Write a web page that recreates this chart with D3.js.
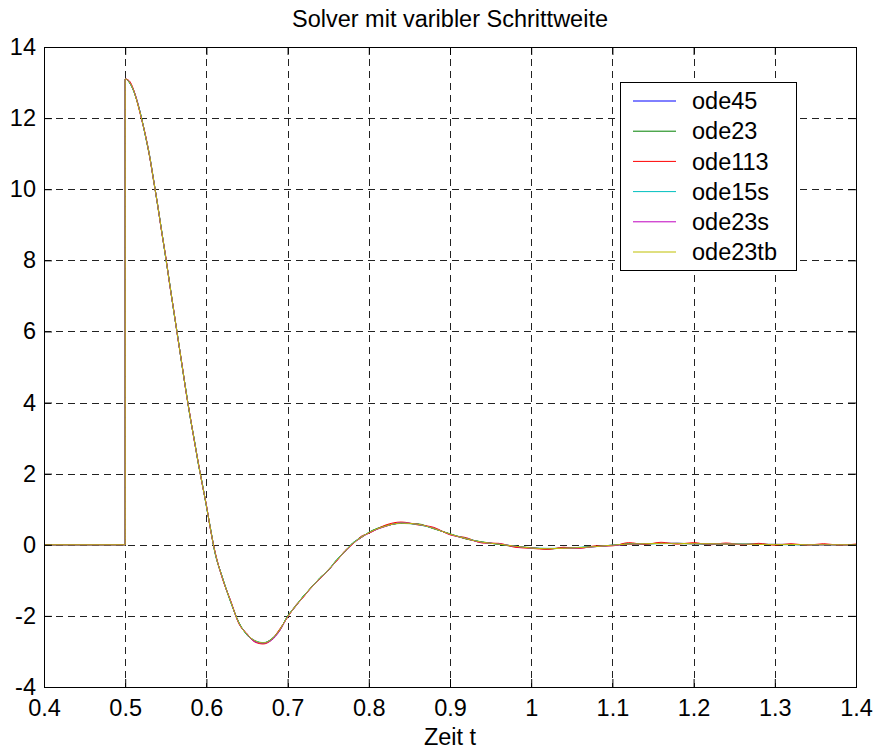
<!DOCTYPE html>
<html>
<head>
<meta charset="utf-8">
<script src="https://cdn.jsdelivr.net/npm/d3@7/dist/d3.min.js"></script>
<style>
  body { margin: 0; background: #fff; }
  svg { display: block; font-family: "Liberation Sans", Arial, sans-serif; }
  .axis text { font-size: 23.5px; fill: #000; }
  .axis line, .axis path { stroke: #000; }
  .grid line { stroke: #222; stroke-dasharray: 7,5; shape-rendering: crispEdges; }
</style>
</head>
<body>
<div id="chart"></div>
<script>
// time grid shared by all solver outputs
var time = [0.4, 0.5, 0.5,
  0.505, 0.51, 0.515, 0.52, 0.525, 0.53, 0.535, 0.54, 0.545, 0.55, 0.555, 0.56, 0.565, 0.57, 0.575, 0.58, 0.585, 0.59, 0.595, 0.6, 0.605, 0.61,
  0.62, 0.63, 0.64, 0.65, 0.66, 0.67, 0.68, 0.69, 0.7, 0.71, 0.72, 0.73, 0.74, 0.75, 0.76, 0.77, 0.78, 0.79, 0.8,
  0.82, 0.84, 0.86, 0.88, 0.9, 0.92, 0.94, 0.96, 0.98, 1.0, 1.02, 1.04, 1.06, 1.08, 1.1, 1.12, 1.14, 1.16, 1.18, 1.2,
  1.22, 1.24, 1.26, 1.28, 1.3, 1.32, 1.34, 1.36, 1.38, 1.4];

var ode45 = [0, 0, 13.1,
  13.02, 12.8, 12.45, 12.0, 11.5, 10.95, 10.25, 9.55, 8.8, 8.07, 7.3, 6.55, 5.8, 5.05, 4.3, 3.6, 2.95, 2.3, 1.7, 1.1, 0.45, -0.15,
  -0.95, -1.6, -2.2, -2.52, -2.7, -2.76, -2.66, -2.4, -2.02, -1.72, -1.44, -1.18, -0.94, -0.72, -0.45, -0.2, 0.03, 0.2, 0.34,
  0.52, 0.61, 0.58, 0.46, 0.3, 0.17, 0.07, 0.02, -0.04, -0.09, -0.11, -0.1, -0.08, -0.05, -0.01, 0.02, 0.03, 0.04, 0.04, 0.03,
  0.03, 0.02, 0.02, 0.01, 0.01, 0.01, 0.0, 0.0, 0.0, 0.0];
var ode23 = [0, 0, 13.1,
  13.0, 12.78, 12.44, 12.02, 11.48, 10.92, 10.27, 9.53, 8.82, 8.05, 7.32, 6.53, 5.82, 5.03, 4.32, 3.58, 2.97, 2.28, 1.72, 1.08, 0.47, -0.17,
  -0.93, -1.62, -2.18, -2.54, -2.71, -2.77, -2.65, -2.42, -2.0, -1.73, -1.42, -1.19, -0.92, -0.73, -0.43, -0.21, 0.05, 0.19, 0.35,
  0.53, 0.6, 0.59, 0.45, 0.31, 0.16, 0.08, 0.01, -0.05, -0.08, -0.12, -0.09, -0.08, -0.04, -0.02, 0.03, 0.02, 0.04, 0.03, 0.03,
  0.02, 0.02, 0.01, 0.02, 0.0, 0.01, 0.0, 0.01, 0.0, 0.0];
var ode113 = [0, 0, 13.1,
  13.05, 12.82, 12.43, 11.98, 11.52, 10.93, 10.22, 9.57, 8.78, 8.1, 7.28, 6.57, 5.78, 5.07, 4.28, 3.62, 2.93, 2.32, 1.68, 1.12, 0.43, -0.13,
  -0.97, -1.58, -2.22, -2.5, -2.74, -2.79, -2.68, -2.38, -2.04, -1.7, -1.46, -1.16, -0.96, -0.7, -0.47, -0.18, 0.01, 0.23, 0.32,
  0.55, 0.64, 0.56, 0.49, 0.28, 0.2, 0.05, 0.04, -0.07, -0.1, -0.13, -0.07, -0.1, -0.03, -0.03, 0.06, 0.01, 0.07, 0.02, 0.06,
  0.0, 0.05, 0.0, 0.04, -0.01, 0.03, -0.01, 0.03, -0.01, 0.02];
var ode15s = [0, 0, 13.1,
  13.01, 12.79, 12.46, 12.01, 11.49, 10.96, 10.24, 9.56, 8.81, 8.06, 7.31, 6.54, 5.81, 5.04, 4.31, 3.59, 2.96, 2.29, 1.71, 1.09, 0.46, -0.16,
  -0.94, -1.61, -2.19, -2.53, -2.7, -2.75, -2.67, -2.41, -2.01, -1.71, -1.43, -1.17, -0.93, -0.71, -0.44, -0.19, 0.04, 0.21, 0.34,
  0.52, 0.61, 0.57, 0.46, 0.3, 0.18, 0.07, 0.02, -0.04, -0.09, -0.1, -0.1, -0.07, -0.05, -0.01, 0.02, 0.03, 0.03, 0.04, 0.03,
  0.02, 0.02, 0.02, 0.01, 0.01, 0.0, 0.0, 0.0, 0.0, 0.0];
var ode23s = [0, 0, 13.1,
  13.03, 12.81, 12.47, 11.99, 11.51, 10.94, 10.26, 9.54, 8.79, 8.08, 7.29, 6.56, 5.79, 5.06, 4.29, 3.61, 2.94, 2.31, 1.69, 1.11, 0.44, -0.14,
  -0.96, -1.59, -2.21, -2.51, -2.73, -2.77, -2.69, -2.43, -2.03, -1.73, -1.45, -1.19, -0.95, -0.73, -0.46, -0.21, 0.02, 0.19, 0.33,
  0.51, 0.62, 0.58, 0.47, 0.29, 0.17, 0.06, 0.03, -0.05, -0.09, -0.11, -0.1, -0.09, -0.05, -0.02, 0.01, 0.03, 0.04, 0.04, 0.03,
  0.03, 0.02, 0.01, 0.01, 0.01, 0.01, 0.0, 0.0, 0.0, 0.0];
var ode23tb = [0, 0, 13.1,
  13.02, 12.8, 12.44, 12.0, 11.5, 10.95, 10.25, 9.55, 8.8, 8.07, 7.3, 6.55, 5.8, 5.05, 4.3, 3.6, 2.95, 2.3, 1.7, 1.1, 0.45, -0.15,
  -0.95, -1.6, -2.2, -2.52, -2.7, -2.76, -2.66, -2.4, -2.02, -1.72, -1.44, -1.18, -0.94, -0.72, -0.45, -0.2, 0.03, 0.2, 0.34,
  0.52, 0.61, 0.58, 0.46, 0.3, 0.17, 0.07, 0.02, -0.04, -0.09, -0.11, -0.1, -0.08, -0.05, -0.01, 0.02, 0.03, 0.04, 0.04, 0.03,
  0.03, 0.02, 0.02, 0.01, 0.01, 0.01, 0.0, 0.0, 0.0, 0.0];

var seriesNames = ["ode45", "ode23", "ode113", "ode15s", "ode23s", "ode23tb"];
var seriesValues = [ode45, ode23, ode113, ode15s, ode23s, ode23tb];
var seriesColors = ["#0000ff", "#008000", "#ff0000", "#00bfbf", "#bf00bf", "#bfbf00"];

var xTicks = [0.4, 0.5, 0.6, 0.7, 0.8, 0.9, 1.0, 1.1, 1.2, 1.3, 1.4];
var xTickLabels = ["0.4", "0.5", "0.6", "0.7", "0.8", "0.9", "1", "1.1", "1.2", "1.3", "1.4"];
var yTicks = [-4, -2, 0, 2, 4, 6, 8, 10, 12, 14];
var yTickLabels = ["-4", "-2", "0", "2", "4", "6", "8", "10", "12", "14"];

var width = 876, height = 751;
var margin = { top : 47, right : 20, bottom : 64, left : 44 };
var plotW = width - margin.left - margin.right;
var plotH = height - margin.top - margin.bottom;

var x = d3.scaleLinear().domain([0.4, 1.4]).range([0, plotW]);
var y = d3.scaleLinear().domain([-4, 14]).range([plotH, 0]);

var svg = d3.select("#chart").append("svg")
  .attr("width", width)
  .attr("height", height);

var g = svg.append("g")
  .attr("transform", "translate(" + margin.left + "," + margin.top + ")");

// dashed grid, interior only
var grid = g.append("g").attr("class", "grid");
grid.selectAll(".gx").data(xTicks.slice(1, -1)).enter()
  .append("line")
  .attr("x1", (d) => Math.round(x(d)) + 0.5).attr("x2", (d) => Math.round(x(d)) + 0.5)
  .attr("y1", 0).attr("y2", plotH);
grid.selectAll(".gy").data(yTicks.slice(1, -1)).enter()
  .append("line")
  .attr("y1", (d) => Math.round(y(d)) + 0.5).attr("y2", (d) => Math.round(y(d)) + 0.5)
  .attr("x1", 0).attr("x2", plotW);

// solver curves
var line = d3.line()
  .curve(d3.curveMonotoneX)
  .x((d) => x(d[0]))
  .y((d) => y(d[1]));

g.append("g").selectAll("path")
  .data(seriesValues).enter()
  .append("path")
  .attr("fill", "none")
  .attr("stroke", (d, i) => seriesColors[i])
  .attr("stroke-width", 1)
  .attr("d", (vals) => line(vals.map((v, i) => [time[i], v])));

// axes with inward ticks on all sides
var xAxis = d3.axisBottom(x).tickValues(xTicks)
  .tickFormat((d, i) => xTickLabels[i]).tickSize(-8).tickSizeOuter(0).tickPadding(12);
var yAxis = d3.axisLeft(y).tickValues(yTicks)
  .tickFormat((d, i) => yTickLabels[i]).tickSize(-8).tickSizeOuter(0).tickPadding(8);
var xTop = d3.axisTop(x).tickValues(xTicks).tickFormat("").tickSize(-8).tickSizeOuter(0);
var yRight = d3.axisRight(y).tickValues(yTicks).tickFormat("").tickSize(-8).tickSizeOuter(0);

g.append("g").attr("class", "x axis")
  .attr("transform", "translate(0," + plotH + ")").call(xAxis);
g.append("g").attr("class", "y axis").call(yAxis);
g.append("g").attr("class", "axis").call(xTop);
g.append("g").attr("class", "axis")
  .attr("transform", "translate(" + plotW + ",0)").call(yRight);
g.selectAll(".axis text").attr("font-family", null);
g.selectAll(".axis .domain").remove();

g.append("rect")
  .attr("x", 0.5).attr("y", 0.5)
  .attr("width", plotW).attr("height", plotH)
  .attr("fill", "none").attr("stroke", "#000");

// legend
var legend = svg.append("g").attr("transform", "translate(620,82)");
legend.append("rect")
  .attr("x", 0.5).attr("y", 0.5)
  .attr("width", 176).attr("height", 188)
  .attr("fill", "#fff").attr("stroke", "#000");
var rows = legend.selectAll(".row")
  .data(seriesNames).enter()
  .append("g")
  .attr("transform", (d, i) => "translate(0," + (19 + i * 30.2) + ")");
rows.append("line")
  .attr("x1", 13).attr("x2", 56)
  .attr("stroke", (d, i) => seriesColors[i]);
rows.append("text")
  .attr("x", 72).attr("dy", "0.35em")
  .attr("font-size", "23.5px")
  .text((d) => d);

// title and label
svg.append("text")
  .attr("x", margin.left + plotW / 2).attr("y", 27)
  .attr("text-anchor", "middle")
  .attr("font-size", "23.5px")
  .text("Solver mit varibler Schrittweite");
svg.append("text")
  .attr("x", margin.left + plotW / 2).attr("y", 745)
  .attr("text-anchor", "middle")
  .attr("font-size", "23.5px")
  .text("Zeit t");
</script>
</body>
</html>
